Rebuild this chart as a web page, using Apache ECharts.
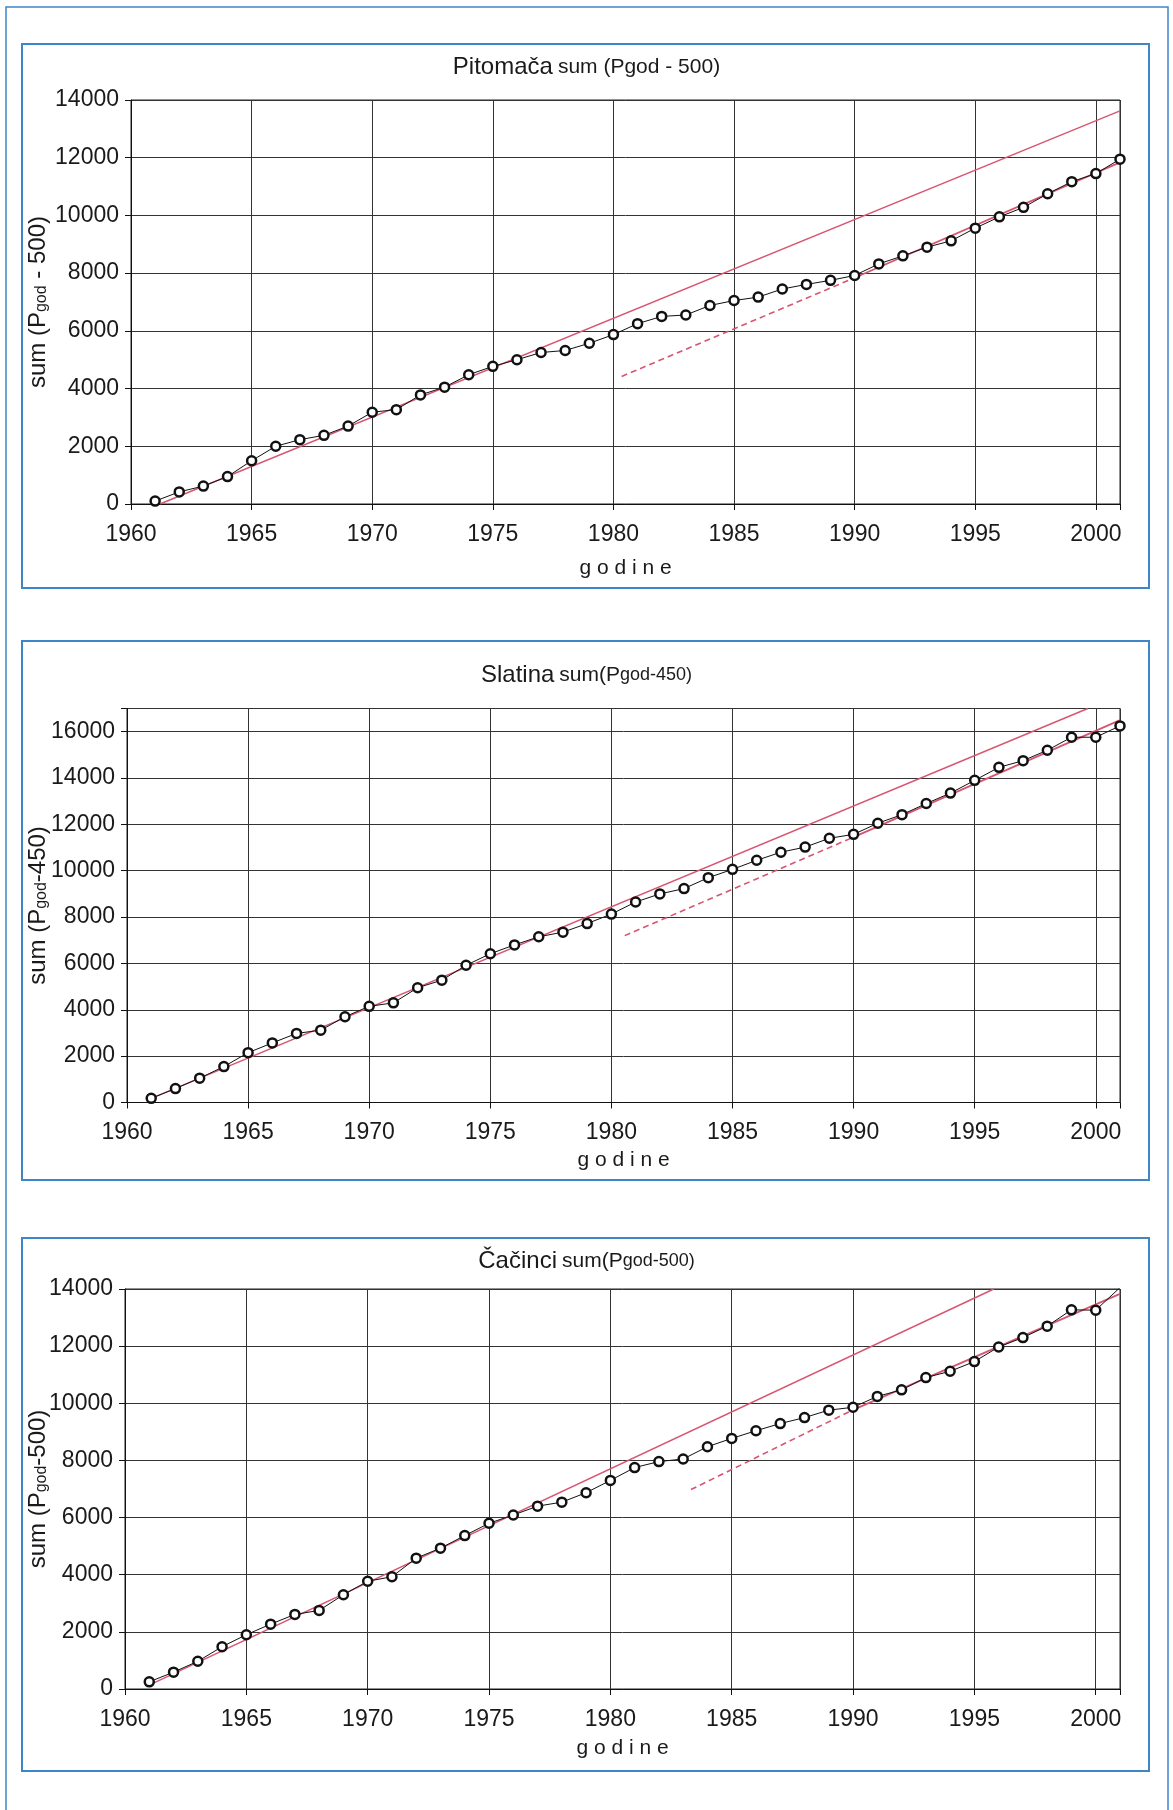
<!DOCTYPE html>
<html><head><meta charset="utf-8">
<script src="https://cdn.jsdelivr.net/npm/echarts@6/dist/echarts.min.js"></script>
<style>html,body{margin:0;padding:0;background:#fff}#c{width:1173px;height:1810px}</style>
</head><body><div id="c"></div>
<script>
// ---- data ----
const years = [1961,1962,1963,1964,1965,1966,1967,1968,1969,1970,1971,1972,1973,1974,1975,1976,1977,1978,1979,1980,1981,1982,1983,1984,1985,1986,1987,1988,1989,1990,1991,1992,1993,1994,1995,1996,1997,1998,1999,2000,2001];
const pitomacaSum = [100,420,620,950,1500,2000,2230,2380,2700,3180,3270,3780,4050,4480,4770,5000,5250,5320,5570,5870,6250,6500,6550,6880,7050,7170,7450,7610,7750,7920,8320,8600,8900,9120,9560,9950,10280,10750,11170,11450,11950];
const slatinaSum = [180,600,1050,1550,2150,2570,2980,3120,3700,4150,4300,4950,5280,5920,6420,6800,7150,7350,7720,8130,8650,9000,9230,9700,10060,10450,10800,11020,11400,11570,12050,12420,12900,13350,13900,14460,14750,15200,15760,15760,16250];
const cacinciSum = [250,590,970,1480,1900,2270,2610,2750,3300,3770,3930,4580,4930,5370,5800,6090,6400,6540,6870,7300,7750,7960,8050,8480,8770,9040,9290,9500,9760,9860,10240,10470,10900,11120,11460,11970,12300,12700,13270,13260,14050];
// trend lines [year, value]
const pitomacaUpper = [[1961.2,0],[2001,13620]];
const pitomacaLowerDashed = [[1980.34,4420],[1990,7840]];
const pitomacaLowerSolid = [[1990,7840],[2001,11840]];
const slatinaUpper = [[1961,180],[1999.67,17000]];
const slatinaLowerDashed = [[1980.55,7200],[1990,11450]];
const slatinaLowerSolid = [[1990,11450],[2001,16500]];
const cacinciUpper = [[1960.95,120],[1995.8,14000]];
const cacinciLowerDashed = [[1983.32,6980],[1990,9770]];
const cacinciLowerSolid = [[1990,9770],[2001,13830]];
// axes / ticks
const xMin = 1960, xMax = 2001, xStep = 5;
const yStep = 2000;
const yMax1 = 14000, yMax2 = 17000, yMax3 = 14000;
const titles = [
  ['Pitomača', 'sum (Pgod - 500)', ''],
  ['Slatina', 'sum(P', 'god-450)'],
  ['Čačinci', 'sum(P', 'god-500)']
];
const yNames = [['sum (P','god',' - 500)'],['sum (P','god','-450)'],['sum (P','god','-500)']];
const xName = 'g o d i n e';

// ---- styling ----
const FN = '"Liberation Sans Narrow","Liberation Sans",Arial,sans-serif';
const FR = '"Liberation Sans",Arial,sans-serif';
const RED = '#d85570';
const BLUE = '#3f86c8';
const TXT = '#1a1a1a';

const grids = [
  {left:131, top:100, width:989, height:404},
  {left:127, top:708.5, width:993, height:394},
  {left:125, top:1289, width:995, height:400}
];
const yMaxes = [yMax1, yMax2, yMax3];
const titleTops = [50, 658, 1244];
const xNameGaps = [54, 47, 49];
const yNameGaps = [81, 77, 75];

function pairs(vals){ return years.map((y,i)=>[y, vals[i]]); }
const sums = [pitomacaSum, slatinaSum, cacinciSum];
const uppers = [pitomacaUpper, slatinaUpper, cacinciUpper];
const dashes = [pitomacaLowerDashed, slatinaLowerDashed, cacinciLowerDashed];
const solids = [pitomacaLowerSolid, slatinaLowerSolid, cacinciLowerSolid];

const option = {
  backgroundColor: '#fff',
  animation: false,
  title: titles.map((t,i)=>({
    left: 'center', top: titleTops[i],
    text: t[2] ? `{a|${t[0]}} {b|${t[1]}}{c|${t[2]}}` : `{a|${t[0]}} {b|${t[1]}}`,
    textStyle: { fontWeight:'normal', rich: {
      a: {fontFamily: FR, fontSize: 24, fontWeight:'normal', color: TXT},
      b: {fontFamily: FR, fontSize: 21, fontWeight:'normal', color: TXT},
      c: {fontFamily: FR, fontSize: 18, fontWeight:'normal', color: TXT}
    }}
  })),
  grid: grids.map(g=>Object.assign({show:true, borderColor:'#222', borderWidth:1, backgroundColor:'transparent'}, g)),
  xAxis: grids.map((g,i)=>({
    type:'value', gridIndex:i, min:xMin, max:xMax, interval:xStep,
    name: xName, nameLocation:'middle', nameGap: xNameGaps[i], nameMoveOverlap:false,
    nameTextStyle:{fontFamily:FR, fontSize:21, color:TXT},
    axisLine:{show:true, onZero:false, lineStyle:{color:'#111', width:1}},
    axisTick:{show:true, length:6, lineStyle:{color:'#111'}},
    axisLabel:{fontFamily:FN, fontSize:23, color:TXT, margin:19,
      formatter: v => (v % xStep === 0 ? String(v) : '')},
    splitLine:{show:true, lineStyle:{color:'#333', width:1}}
  })),
  yAxis: grids.map((g,i)=>({
    type:'value', gridIndex:i, min:0, max:yMaxes[i], interval:yStep,
    name: `{n|${yNames[i][0]}}{s|${yNames[i][1]}}{n|${yNames[i][2]}}`,
    nameLocation:'middle', nameGap: yNameGaps[i], nameRotate: 90, nameMoveOverlap:false,
    nameTextStyle:{rich:{
      n:{fontFamily:FR, fontSize:24, color:TXT},
      s:{fontFamily:FR, fontSize:16, color:TXT, verticalAlign:'bottom', padding:[7,0,0,0]}
    }},
    axisLine:{show:true, lineStyle:{color:'#111', width:1}},
    axisTick:{show:true, length:6, lineStyle:{color:'#111'}},
    axisLabel:{fontFamily:FN, fontSize:23, color:TXT, margin:12,
      formatter: v => (v % yStep === 0 ? String(v) : '')},
    splitLine:{show:true, lineStyle:{color:'#333', width:1}}
  })),
  series: [].concat(...grids.map((g,i)=>[
    {type:'line', xAxisIndex:i, yAxisIndex:i, data:uppers[i], showSymbol:false, symbol:'none',
      lineStyle:{color:RED, width:1.4}, z:2, silent:true},
    {type:'line', xAxisIndex:i, yAxisIndex:i, data:dashes[i], showSymbol:false, symbol:'none',
      lineStyle:{color:RED, width:1.6, type:[6,4]}, z:2, silent:true},
    {type:'line', xAxisIndex:i, yAxisIndex:i, data:solids[i], showSymbol:false, symbol:'none',
      lineStyle:{color:RED, width:1.8}, z:2, silent:true},
    {type:'line', xAxisIndex:i, yAxisIndex:i, data:pairs(sums[i]),
      symbol:'circle', symbolSize:9, showSymbol:true,
      itemStyle:{color:'#fff', borderColor:'#111', borderWidth:2.5},
      lineStyle:{color:'#111', width:1}, z:3, silent:true}
  ])),
  graphic: [
    {type:'rect', shape:{x:6, y:7, width:1162, height:1900}, style:{fill:'none', stroke:BLUE, lineWidth:1.5}, silent:true},
    {type:'rect', shape:{x:22, y:44, width:1127, height:544}, style:{fill:'none', stroke:BLUE, lineWidth:2}, silent:true},
    {type:'rect', shape:{x:22, y:641, width:1127, height:539}, style:{fill:'none', stroke:BLUE, lineWidth:2}, silent:true},
    {type:'rect', shape:{x:22, y:1238, width:1127, height:533}, style:{fill:'none', stroke:BLUE, lineWidth:2}, silent:true}
  ]
};
const chart = echarts.init(document.getElementById('c'), null, {renderer:'canvas'});
chart.setOption(option);
</script>
</body></html>
